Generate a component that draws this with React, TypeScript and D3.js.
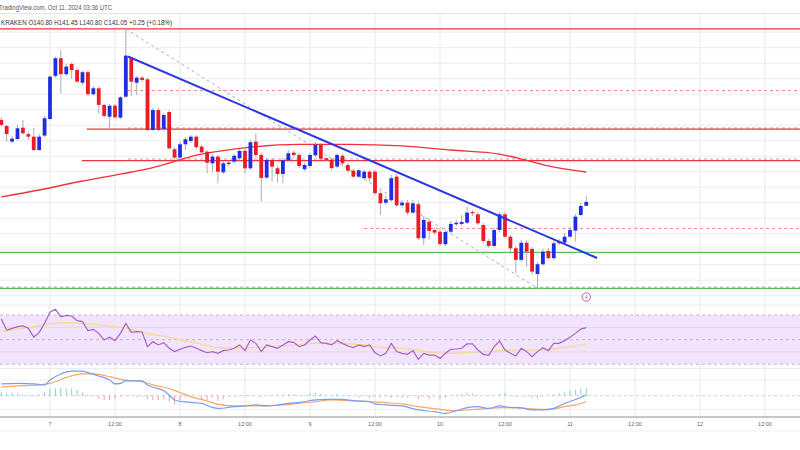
import React from "react";
import * as d3 from "d3";

const W = 800;
const H = 450;
const HOUR = 3600000;
// first candle: Oct 6, 15:00 UTC, hourly candles
const startTime = Date.UTC(2024, 9, 6, 15);

const opens = [
  146.34, 145.95, 144.94, 145.11, 145.84, 145.42, 145.26, 144.4, 145.33, 146.4,
  149.18, 150.32, 149.29, 149.95, 149.56, 148.74, 149.42, 148.0, 148.38, 147.31,
  146.55, 147.26, 146.49, 147.84, 150.32, 148.74, 149.07, 148.96, 145.69, 146.98,
  145.76, 146.85, 144.45, 143.91, 144.77, 144.98, 145.26, 144.62, 144.29, 143.54,
  143.97, 142.96, 143.5, 143.65, 143.87, 144.34, 143.22, 144.94, 144.08, 142.62,
  143.76, 143.22, 142.85, 143.74, 144.23, 144.08, 143.16, 143.37, 144.06, 144.74,
  143.87, 143.78, 143.33, 144.03, 143.43, 143.07, 142.68, 142.58, 143.0, 143.0,
  141.61, 141.0, 141.16, 142.68, 140.83, 141.0, 140.36, 140.9, 138.71, 139.78,
  139.24, 139.13, 138.32, 139.13, 139.61, 139.63, 139.71, 140.4, 140.25, 139.56,
  138.53, 138.21, 139.24, 140.25, 138.81, 138.06, 137.31, 138.42, 138.02, 136.4,
  137.03, 137.89, 137.42, 138.53, 138.42, 138.81, 139.2, 140.21, 140.8,
];
const highs = [
  146.53, 146.02, 145.31, 146.02, 146.34, 145.56, 145.82, 145.43, 146.6, 149.24,
  150.42, 150.85, 149.95, 150.03, 149.69, 149.5, 149.5, 148.53, 148.47, 147.37,
  147.37, 147.37, 147.89, 152.21, 150.4, 149.18, 149.18, 149.05, 147.11, 147.11,
  146.79, 146.98, 144.6, 144.92, 145.24, 145.37, 145.37, 144.73, 144.4, 144.14,
  144.08, 143.69, 143.69, 144.14, 144.47, 144.47, 145.05, 145.48, 144.21, 143.89,
  143.89, 143.37, 143.89, 144.4, 144.34, 144.21, 143.56, 144.21, 144.92, 144.85,
  143.95, 143.89, 144.21, 144.14, 143.56, 143.18, 143.18, 143.11, 143.11, 143.11,
  141.76, 141.43, 142.79, 142.85, 141.18, 141.18, 141.18, 141.05, 140.14, 140.02,
  139.37, 139.31, 139.24, 139.82, 139.89, 140.21, 140.73, 140.53, 140.4, 139.69,
  138.66, 139.37, 140.4, 140.4, 138.92, 138.21, 138.6, 138.6, 138.14, 137.18,
  138.02, 138.08, 138.53, 138.66, 139.05, 139.43, 140.27, 140.98, 141.45,
];
const lows = [
  145.89, 144.94, 144.85, 145.05, 145.37, 145.05, 144.34, 144.34, 145.24, 146.34,
  149.05, 148.06, 149.18, 148.98, 148.73, 148.6, 147.89, 147.89, 146.77, 146.47,
  145.82, 146.4, 146.4, 147.76, 147.89, 147.95, 148.79, 145.63, 145.63, 145.63,
  145.63, 144.4, 143.76, 143.76, 144.4, 144.85, 144.47, 144.14, 142.9, 143.0,
  142.25, 142.85, 143.37, 143.56, 143.76, 142.9, 143.11, 143.95, 141.07, 142.53,
  142.36, 142.29, 142.25, 143.63, 143.95, 143.24, 143.05, 143.24, 143.95, 143.76,
  143.69, 143.11, 143.24, 143.37, 142.92, 142.6, 142.6, 142.47, 142.34, 141.5,
  140.21, 140.85, 141.05, 140.73, 140.66, 140.21, 140.27, 138.6, 138.27, 138.6,
  138.92, 138.21, 138.21, 139.05, 139.5, 139.5, 139.63, 140.14, 139.56, 138.4,
  138.08, 138.08, 139.11, 138.73, 137.82, 136.47, 137.18, 136.85, 136.34, 135.48,
  136.92, 137.31, 137.31, 138.27, 138.34, 138.73, 138.49, 140.14, 140.8,
];
const closes = [
  146.02, 145.43, 145.13, 145.8, 145.48, 145.26, 144.4, 145.26, 146.45, 149.13,
  150.32, 149.29, 149.78, 149.56, 148.81, 149.42, 148.0, 148.38, 147.31, 146.6,
  147.26, 146.51, 147.8, 150.49, 148.81, 149.07, 148.92, 145.69, 146.98, 145.69,
  146.66, 144.51, 143.91, 144.77, 145.09, 145.26, 144.58, 144.25, 143.58, 143.97,
  143.0, 143.54, 143.58, 144.03, 144.34, 143.22, 144.9, 144.08, 142.6, 143.76,
  143.33, 142.85, 143.74, 144.19, 144.08, 143.37, 143.43, 144.08, 144.74, 143.84,
  143.76, 143.24, 144.08, 143.54, 143.07, 142.68, 143.09, 143.0, 142.58, 141.61,
  140.96, 141.22, 142.58, 140.83, 141.0, 140.36, 140.96, 138.71, 139.89, 139.18,
  139.07, 138.34, 139.11, 139.63, 139.71, 139.76, 140.36, 140.32, 139.67, 138.53,
  138.21, 139.24, 140.25, 138.81, 138.06, 137.31, 138.42, 137.84, 136.55, 137.03,
  137.84, 137.42, 138.38, 138.38, 138.81, 139.24, 140.1, 140.79, 141.05,
];

// moving average (red curve), read at candle indices
const maIdx = [0, 7, 15, 22, 27, 31, 35, 40, 46, 55, 64, 74, 83, 92, 98, 101, 108];
const maVal = [141.37, 141.82, 142.4, 142.85, 143.18, 143.56, 143.98, 144.31, 144.58, 144.76, 144.76, 144.66, 144.4, 144.14, 143.63, 143.37, 142.98];

// RSI per candle
const rsiValues = [
  66.8, 57.8, 59.2, 60.5, 61.1, 59.2, 52.1, 55.7, 63.2, 72.2,
  74.6, 68.6, 69.7, 69.2, 65.4, 64.6, 57.3, 58.4, 55.1, 49.7,
  51.9, 49.2, 55.1, 63.2, 55.9, 56.5, 56.2, 44.3, 48.4, 45.7,
  47.6, 43.0, 40.3, 42.1, 43.8, 44.8, 43.0, 41.1, 39.4, 40.3,
  38.9, 41.1, 41.6, 43.0, 45.7, 41.1, 49.7, 47.0, 40.3, 45.7,
  44.3, 43.0, 45.7, 48.4, 47.8, 44.3, 45.7, 49.7, 52.9, 47.6,
  47.0, 45.7, 49.2, 47.0, 44.8, 43.5, 45.7, 44.3, 45.7, 39.4,
  36.8, 38.9, 47.0, 40.3, 38.9, 38.1, 41.1, 34.0, 38.9, 37.5,
  37.5, 34.8, 38.9, 42.1, 42.4, 43.0, 46.5, 46.5, 41.6, 38.1,
  37.3, 44.3, 48.9, 41.6, 38.9, 36.8, 43.0, 40.3, 36.2, 40.3,
  43.5, 41.1, 47.0, 47.0, 49.2, 51.9, 55.1, 58.6, 59.7,
];
const rsiMaIdx = [0, 6, 9, 12, 15, 18, 21, 24, 27, 31, 34, 37, 40, 43, 46, 49, 52, 55, 58, 61, 64, 67, 70, 74, 80, 83, 86, 89, 92, 95, 98, 101, 104, 106, 108];
const rsiMaVal = [56.5, 60.5, 62.7, 63.8, 63.2, 61.9, 60.5, 58.4, 55.1, 51.9, 49.2, 46.2, 43.5, 43.0, 43.5, 44.3, 45.1, 45.7, 47.0, 47.0, 46.5, 45.7, 43.8, 43.0, 39.4, 38.9, 39.7, 40.3, 41.1, 41.6, 41.6, 42.1, 43.5, 44.8, 46.5];

// MACD line and signal, read at candle indices
const macdIdx = [0, 3, 6, 8, 9, 11, 13, 15, 16, 18, 20, 21, 22, 23, 26, 27, 28, 30, 31, 32, 34, 37, 39, 40, 43, 45, 47, 49, 51, 53, 55, 58, 60, 63, 65, 68, 69, 71, 74, 77, 80, 82, 84, 86, 88, 90, 92, 94, 96, 98, 100, 102, 104, 106, 108];
const macdVal = [0.47, 0.49, 0.47, 0.43, 0.63, 0.87, 0.98, 0.98, 0.92, 0.79, 0.63, 0.47, 0.49, 0.59, 0.59, 0.43, 0.34, 0.2, 0.03, -0.17, -0.25, -0.31, -0.47, -0.51, -0.44, -0.41, -0.37, -0.41, -0.37, -0.31, -0.27, -0.17, -0.15, -0.15, -0.2, -0.24, -0.33, -0.37, -0.41, -0.57, -0.64, -0.71, -0.6, -0.48, -0.44, -0.51, -0.41, -0.47, -0.49, -0.57, -0.57, -0.51, -0.31, -0.15, 0.03];
const signalIdx = [0, 3, 7, 9, 12, 15, 17, 20, 22, 24, 26, 28, 31, 33, 35, 38, 40, 43, 47, 49, 52, 55, 58, 61, 64, 68, 71, 74, 77, 81, 84, 86, 89, 92, 95, 98, 101, 104, 106, 108];
const signalVal = [0.34, 0.39, 0.43, 0.49, 0.73, 0.87, 0.87, 0.76, 0.65, 0.6, 0.56, 0.43, 0.29, 0.13, -0.04, -0.21, -0.35, -0.41, -0.41, -0.41, -0.37, -0.31, -0.24, -0.17, -0.2, -0.24, -0.28, -0.33, -0.44, -0.55, -0.6, -0.57, -0.53, -0.48, -0.48, -0.53, -0.55, -0.44, -0.37, -0.24];
const histValues = [
  0.15, 0.09, 0.12, 0.09, 0.05, 0.04, 0.03, 0.05, 0.16, 0.25,
  0.29, 0.33, 0.29, 0.29, 0.23, 0.12, 0.05, 0.03, -0.11, -0.17,
  -0.17, -0.13, -0.04, -0.01, -0.03, -0.05, -0.04, -0.13, -0.17, -0.17,
  -0.15, -0.24, -0.35, -0.17, -0.07, -0.05, -0.04, -0.15, -0.2, -0.07,
  -0.21, -0.13, -0.04, -0.03, -0.03, -0.05, 0.01, -0.01, -0.04, -0.01,
  0, 0.04, 0.05, 0.07, 0.05, 0.03, 0.04, 0.11, 0.12, 0.08,
  0.04, 0.03, 0.09, 0.01, -0.05, -0.03, -0.08, -0.04, -0.09, -0.05,
  -0.07, -0.04, -0.08, -0.04, -0.08, -0.07, -0.03, -0.13, -0.04, -0.12,
  -0.04, -0.13, -0.07, -0.01, 0.03, 0.07, 0.11, 0.09, 0.03, -0.01,
  -0.01, 0.03, 0.08, 0.12, 0.01, -0.05, -0.01, -0.03, -0.08, -0.09,
  -0.03, -0.01, 0.05, 0.11, 0.13, 0.2, 0.23, 0.28, 0.31,
];

// drawn levels (price, starting candle index; null = whole width)
const redLevels = [152.21, 145.75, 143.72];
const redLevelStart = [null, 15.8, 14.9];
const redDashedLevels = [148.23, 139.34];
const redDashedStart = [23.4, 67];
const greenLevels = [137.8, 135.47];
const greyGuideLevels = [145.82, 143.82, 135.55];
const greyGuideStart = [23.4, 23.4, null];
// trend line (blue) and measure line (grey dashed): [index, price]
const trendLine = [[23.4, 150.43], [110, 137.43]];
const measureLine = [[23, 152.21], [99, 135.48]];

const tickDates = [
  Date.UTC(2024, 9, 7, 0), Date.UTC(2024, 9, 7, 12), Date.UTC(2024, 9, 8, 0), Date.UTC(2024, 9, 8, 12),
  Date.UTC(2024, 9, 9, 0), Date.UTC(2024, 9, 9, 12), Date.UTC(2024, 9, 10, 0), Date.UTC(2024, 9, 10, 12),
  Date.UTC(2024, 9, 11, 0), Date.UTC(2024, 9, 11, 12), Date.UTC(2024, 9, 12, 0), Date.UTC(2024, 9, 12, 12),
];
const tickLabels = ["7", "12:00", "8", "12:00", "9", "12:00", "10", "12:00", "11", "12:00", "12", "12:00"];

const headerText = "TradingView.com, Oct 11, 2024 03:36 UTC";
const legendText = "KRAKEN  O140.80  H141.45  L140.80  C141.05  +0.25 (+0.18%)";

const FONT = "'Liberation Sans', Arial, sans-serif";
const UP = "#1f2ee6";
const DOWN = "#ec1c24";
const RED_LINE = "#f0323c";
const GREEN_LINE = "#5cbf5c";

export default function App() {
  const x = d3
    .scaleUtc()
    .domain([new Date(startTime), new Date(startTime + 108 * HOUR)])
    .range([1.25, 586.25]);
  const xi = (i: number) => x(new Date(startTime + i * HOUR));
  const y = d3.scaleLinear().domain([141, 152]).range([202.7, 32.2]);
  const yRsi = d3.scaleLinear().domain([30, 70]).range([364.3, 315]);
  const yMacd = d3.scaleLinear().domain([0, 1]).range([395.7, 370.7]);

  const mainTop = 13.5;
  const axisY = 417;

  const priceGrid = d3.range(135, 153);
  const bodyW = 3.8;

  const maLine = d3
    .line<number>()
    .x((d, k) => xi(maIdx[k]))
    .y((d) => y(d))
    .curve(d3.curveMonotoneX)(maVal);
  const rsiLine = d3
    .line<number>()
    .x((d, k) => xi(k))
    .y((d) => yRsi(d))(rsiValues);
  const rsiMaLine = d3
    .line<number>()
    .x((d, k) => xi(rsiMaIdx[k]))
    .y((d) => yRsi(d))
    .curve(d3.curveMonotoneX)(rsiMaVal);
  const macdLine = d3
    .line<number>()
    .x((d, k) => xi(macdIdx[k]))
    .y((d) => yMacd(d))
    .curve(d3.curveMonotoneX)(macdVal);
  const signalLine = d3
    .line<number>()
    .x((d, k) => xi(signalIdx[k]))
    .y((d) => yMacd(d))
    .curve(d3.curveMonotoneX)(signalVal);

  const levelX1 = (s: number | null) => (s == null ? 0 : xi(s));

  return (
    <div>
      <style>{`body{margin:0;background:#fff}`}</style>
      <svg width={W} height={H} style={{ display: "block", fontFamily: FONT }}>
        <rect width={W} height={H} fill="#fff" />

        {/* header */}
        <text x={-1} y={9.5} fontSize={7} fill="#555" textLength={113} lengthAdjust="spacingAndGlyphs">
          {headerText}
        </text>
        <line x1={0} x2={W} y1={mainTop} y2={mainTop} stroke="#e4e4e4" />

        {/* vertical grid */}
        {tickDates.map((t, k) => (
          <line key={"vg" + k} x1={x(new Date(t))} x2={x(new Date(t))} y1={mainTop} y2={axisY} stroke="#e9e9e9" />
        ))}
        {/* horizontal grid, main pane */}
        {priceGrid.map((p) => (
          <line key={"hg" + p} x1={0} x2={W} y1={y(p)} y2={y(p)} stroke="#ececec" />
        ))}

        <text x={1} y={25} fontSize={7} fill="#333" textLength={171} lengthAdjust="spacingAndGlyphs">
          {legendText}
        </text>

        {/* grey guide dashes */}
        {greyGuideLevels.map((p, k) => (
          <line key={"gg" + k} x1={levelX1(greyGuideStart[k])} x2={W} y1={y(p)} y2={y(p)} stroke="#aaaaaa" strokeDasharray="3,3" />
        ))}

        {/* levels */}
        {redLevels.map((p, k) => (
          <line key={"rl" + k} x1={levelX1(redLevelStart[k])} x2={W} y1={y(p)} y2={y(p)} stroke={RED_LINE} strokeWidth={1.2} />
        ))}
        {redDashedLevels.map((p, k) => (
          <line key={"rd" + k} x1={levelX1(redDashedStart[k])} x2={W} y1={y(p)} y2={y(p)} stroke="#f47f86" strokeDasharray="3,3" />
        ))}
        {greenLevels.map((p, k) => (
          <line key={"gl" + k} x1={0} x2={W} y1={y(p)} y2={y(p)} stroke={GREEN_LINE} strokeWidth={1.2} />
        ))}

        {/* measure line */}
        <line
          x1={xi(measureLine[0][0])}
          y1={y(measureLine[0][1])}
          x2={xi(measureLine[1][0])}
          y2={y(measureLine[1][1])}
          stroke="#b0b0b0"
          strokeDasharray="3,3"
        />

        {/* moving average */}
        <path d={maLine || ""} fill="none" stroke="#f0323c" strokeWidth={1.3} />

        {/* candles */}
        {opens.map((o, i) => {
          const c = closes[i];
          const cx = xi(i);
          const top = y(Math.max(o, c));
          const bot = y(Math.min(o, c));
          const color = c >= o ? UP : DOWN;
          return (
            <g key={"c" + i}>
              <line x1={cx} x2={cx} y1={y(highs[i])} y2={y(lows[i])} stroke="#9a9a9a" strokeWidth={0.8} />
              <rect x={cx - bodyW / 2} y={top} width={bodyW} height={Math.max(1, bot - top)} fill={color} />
            </g>
          );
        })}

        {/* trend line */}
        <line
          x1={xi(trendLine[0][0])}
          y1={y(trendLine[0][1])}
          x2={xi(trendLine[1][0])}
          y2={y(trendLine[1][1])}
          stroke="#2b37e3"
          strokeWidth={2}
        />

        {/* event marker */}
        <circle cx={xi(108)} cy={297} r={4.2} fill="#fff" stroke="#b065c8" strokeWidth={1} />
        <text x={xi(108)} y={299} fontSize={5} textAnchor="middle" fill="#b065c8">
          4
        </text>

        {/* RSI pane */}
        <line x1={0} x2={W} y1={305} y2={305} stroke="#e8e8e8" />
        <rect x={0} y={yRsi(70)} width={W} height={yRsi(30) - yRsi(70)} fill="#f1e4fc" />
        {[60, 40].map((v) => (
          <line key={"rg" + v} x1={0} x2={W} y1={yRsi(v)} y2={yRsi(v)} stroke="#e2d4ee" />
        ))}
        {[70, 50, 30].map((v) => (
          <line key={"rb" + v} x1={0} x2={W} y1={yRsi(v)} y2={yRsi(v)} stroke="#b8adc4" strokeDasharray="3,3" strokeWidth={0.8} />
        ))}
        <path d={rsiMaLine || ""} fill="none" stroke="#f6d88f" strokeWidth={1.2} />
        <path d={rsiLine || ""} fill="none" stroke="#ad5fc9" strokeWidth={1.2} />

        {/* MACD pane */}
        <line x1={0} x2={W} y1={368.3} y2={368.3} stroke="#e8e8e8" />
        <line x1={0} x2={W} y1={380} y2={380} stroke="#eeeeee" />
        <line x1={0} x2={W} y1={409.3} y2={409.3} stroke="#eeeeee" />
        <line x1={0} x2={W} y1={yMacd(0)} y2={yMacd(0)} stroke="#c4c4c4" strokeDasharray="3,3" strokeWidth={0.8} />
        {histValues.map((v, i) => (
          <line
            key={"h" + i}
            x1={xi(i)}
            x2={xi(i)}
            y1={yMacd(0)}
            y2={yMacd(v)}
            stroke={v >= 0 ? "#86d3c1" : "#f3a0a0"}
            strokeWidth={1}
          />
        ))}
        <path d={signalLine || ""} fill="none" stroke="#f7a868" strokeWidth={1.2} />
        <path d={macdLine || ""} fill="none" stroke="#789df5" strokeWidth={1.2} />

        {/* time axis */}
        <line x1={0} x2={W} y1={axisY} y2={axisY} stroke="#b5b5b5" strokeWidth={1.5} />
        {tickDates.map((t, k) => (
          <text key={"tl" + k} x={x(new Date(t))} y={426} fontSize={5.5} fill="#666" textAnchor="middle">
            {tickLabels[k]}
          </text>
        ))}
        <line x1={0} x2={W} y1={431} y2={431} stroke="#eeeeee" />
      </svg>
    </div>
  );
}
